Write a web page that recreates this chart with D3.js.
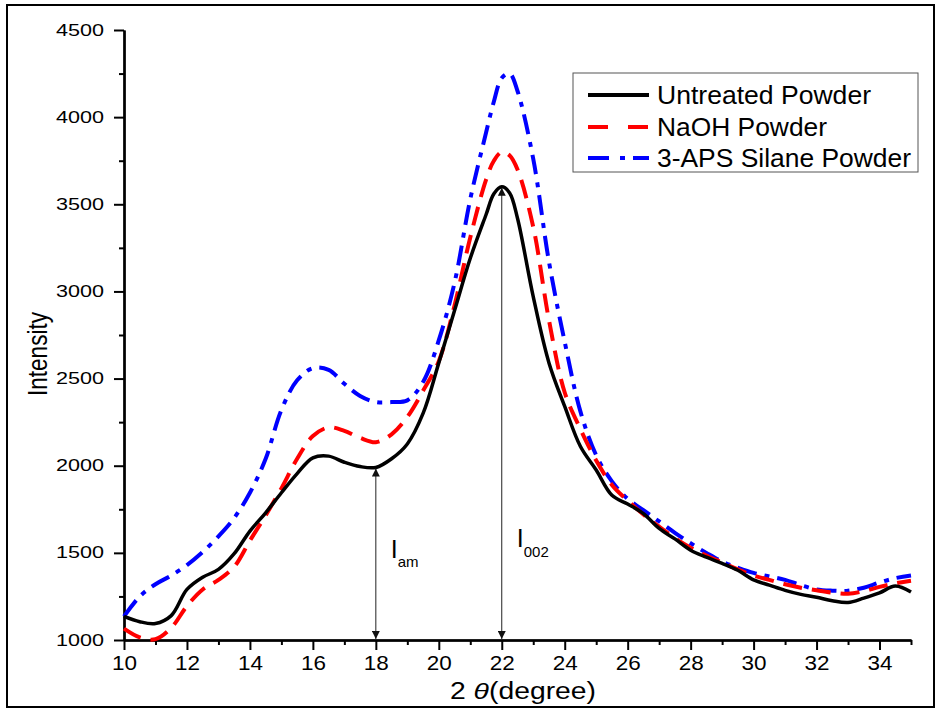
<!DOCTYPE html>
<html>
<head>
<meta charset="utf-8">
<script src="https://cdn.jsdelivr.net/npm/d3@7"></script>
<style>
    html, body { margin: 0; padding: 0; background: #fff; }
    svg { display: block; font-family: "Liberation Sans", Arial, sans-serif; }
</style>
</head>
<body>
<svg id="xrd-svg" width="940" height="711"></svg>
<script>
// --- DATA ---
const twoTheta = [10, 10.5, 11, 11.5, 12, 12.5, 13, 13.5, 14, 14.5, 15, 15.5, 16, 16.5, 17, 17.5,
    18, 18.5, 19, 19.5, 20, 20.5, 21, 21.5, 21.75, 22, 22.25, 22.5, 23, 23.5, 24, 24.5, 25, 25.5,
    26, 26.5, 27, 27.5, 28, 28.5, 29, 29.5, 30, 30.5, 31, 31.5, 32, 32.5, 33, 33.5, 34, 34.5, 35];

const untreated = [1135, 1105, 1095, 1140, 1290, 1360, 1405, 1495, 1625, 1730, 1845, 1955, 2045, 2055, 2020, 1995,
    1990, 2040, 2125, 2300, 2590, 2890, 3190, 3440, 3560, 3600, 3565, 3420, 2970, 2590, 2340, 2110, 1975, 1830,
    1780, 1725, 1640, 1580, 1515, 1475, 1440, 1400, 1345, 1315, 1285, 1262, 1245, 1225, 1215, 1240, 1270, 1310, 1275];

const naoh = [1065, 1015, 1005, 1070, 1195, 1290, 1345, 1420, 1570, 1715, 1870, 2040, 2170, 2220, 2200, 2160,
    2135, 2180, 2280, 2430, 2600, 2920, 3310, 3640, 3750, 3800, 3780, 3700, 3370, 2835, 2420, 2210, 2030, 1890,
    1800, 1720, 1650, 1585, 1530, 1485, 1445, 1405, 1370, 1345, 1320, 1300, 1285, 1272, 1265, 1280, 1305, 1325, 1340];

const silane = [1135, 1250, 1320, 1370, 1430, 1505, 1595, 1700, 1845, 2040, 2320, 2490, 2560, 2550, 2470, 2400,
    2365, 2365, 2375, 2480, 2720, 3050, 3530, 3910, 4090, 4225, 4250, 4150, 3760, 3170, 2710, 2310, 2060, 1910,
    1810, 1745, 1680, 1615, 1555, 1500, 1450, 1415, 1385, 1365, 1345, 1315, 1290, 1283, 1283, 1300, 1330, 1355, 1370];

const seriesNames = ["Untreated Powder", "NaOH Powder", "3-APS Silane Powder"];
const seriesColors = ["#000000", "#ff0000", "#0000ff"];
const seriesDash = [null, "19,10", "20,8,5,8"];

const xMajorTicks = [10, 12, 14, 16, 18, 20, 22, 24, 26, 28, 30, 32, 34];
const yMajorTicks = [1000, 1500, 2000, 2500, 3000, 3500, 4000, 4500];

// intensity markers: I_am at 18 deg, I_002 at 22 deg
const markerAngles = [18, 22];
const markerTops = [1990, 3600];
const markerSubs = ["am", "002"];

document.addEventListener("DOMContentLoaded", () => {
    drawChart();
});

function drawChart() {
    const svg = d3.select("#xrd-svg");

    // picture frame
    svg.append("rect")
        .attr("x", 7).attr("y", 5)
        .attr("width", 927).attr("height", 702)
        .attr("fill", "#fff")
        .attr("stroke", "#000")
        .attr("stroke-width", 2);

    const x = d3.scaleLinear().domain([10, 35]).range([124, 911]);
    const y = d3.scaleLinear().domain([1000, 4500]).range([640, 30]);

    // --- Axes ---
    const xMinor = d3.axisBottom(x).tickValues(d3.range(11, 36, 2)).tickSize(5).tickSizeOuter(0).tickFormat("");
    const yMinor = d3.axisLeft(y).tickValues(d3.range(1250, 4500, 500)).tickSize(5).tickSizeOuter(0).tickFormat("");

    svg.append("g").attr("transform", "translate(0,640)").call(xMinor)
        .call(g => g.selectAll("line,path").attr("stroke", "#000").attr("stroke-width", 2));
    svg.append("g").attr("transform", "translate(124,0)").call(yMinor)
        .call(g => g.selectAll("line,path").attr("stroke", "#000").attr("stroke-width", 2));

    const gx = svg.append("g").attr("transform", "translate(0,640)")
        .call(d3.axisBottom(x).tickValues(xMajorTicks).tickSize(10).tickSizeOuter(0).tickPadding(5).tickFormat(d3.format("d")));
    gx.select(".domain").attr("stroke", "#000").attr("stroke-width", 2.5);
    gx.selectAll("line").attr("stroke", "#000").attr("stroke-width", 2);
    gx.selectAll("text").attr("fill", "#000").style("font-size", "21px")
        .attr("textLength", 25).attr("lengthAdjust", "spacingAndGlyphs");

    const gy = svg.append("g").attr("transform", "translate(124,0)")
        .call(d3.axisLeft(y).tickValues(yMajorTicks).tickSize(10).tickSizeOuter(0).tickPadding(10).tickFormat(d3.format("d")));
    gy.select(".domain").attr("stroke", "#000").attr("stroke-width", 2.5);
    gy.selectAll("line").attr("stroke", "#000").attr("stroke-width", 2);
    gy.selectAll("text").attr("fill", "#000").style("font-size", "16px")
        .attr("textLength", 48).attr("lengthAdjust", "spacingAndGlyphs");
    // clear the font attrs d3 puts on the axis group
    svg.selectAll("g").attr("font-family", null).attr("font-size", null);

    // axis titles
    svg.append("text")
        .attr("transform", "translate(47,354) rotate(-90)")
        .attr("text-anchor", "middle")
        .attr("textLength", 84).attr("lengthAdjust", "spacingAndGlyphs")
        .style("font-size", "27px")
        .text("Intensity");

    const xt = svg.append("text")
        .attr("x", 523).attr("y", 699)
        .attr("text-anchor", "middle")
        .attr("textLength", 146).attr("lengthAdjust", "spacingAndGlyphs")
        .style("font-size", "23px");
    xt.append("tspan").text("2 ");
    xt.append("tspan").style("font-style", "italic").text("θ");
    xt.append("tspan").text("(degree)");

    // --- Curves ---
    const allSeries = [untreated, naoh, silane];
    const line = d3.line()
        .x((d, i) => x(twoTheta[i]))
        .y(d => y(d))
        .curve(d3.curveCatmullRom.alpha(0.5));

    // draw blue and red under black
    [2, 1, 0].forEach(k => {
        svg.append("path")
            .datum(allSeries[k])
            .attr("fill", "none")
            .attr("stroke", seriesColors[k])
            .attr("stroke-width", k === 0 ? 3.5 : 4)
            .attr("stroke-dasharray", seriesDash[k])
            .attr("stroke-linejoin", "round")
            .attr("d", line);
    });

    // --- Intensity markers (double arrows) ---
    const defs = svg.append("defs");
    defs.append("marker")
        .attr("id", "arr")
        .attr("viewBox", "0 0 10 10")
        .attr("refX", 10).attr("refY", 5)
        .attr("markerWidth", 13).attr("markerHeight", 8)
        .attr("markerUnits", "userSpaceOnUse")
        .attr("orient", "auto-start-reverse")
        .append("path")
        .attr("d", "M0,0 L10,5 L0,10 Z")
        .attr("fill", "#111");

    markerAngles.forEach((a, i) => {
        svg.append("line")
            .attr("x1", x(a)).attr("x2", x(a))
            .attr("y1", y(markerTops[i]) + 1).attr("y2", y(1000) - 1)
            .attr("stroke", "#222")
            .attr("stroke-width", 1)
            .attr("marker-start", "url(#arr)")
            .attr("marker-end", "url(#arr)");
    });

    // labels I_am and I_002
    const lab1 = svg.append("text").attr("x", x(18) + 15).attr("y", 558).style("font-size", "25px");
    lab1.append("tspan").text("I");
    lab1.append("tspan").attr("dy", 9).style("font-size", "15px").text(markerSubs[0]);

    const lab2 = svg.append("text").attr("x", x(22) + 15).attr("y", 547).style("font-size", "25px");
    lab2.append("tspan").text("I");
    lab2.append("tspan").attr("dy", 10).style("font-size", "15px").text(markerSubs[1]);

    // --- Legend ---
    const lg = svg.append("g");
    lg.append("rect")
        .attr("x", 573).attr("y", 73)
        .attr("width", 345).attr("height", 99)
        .attr("fill", "#fff")
        .attr("stroke", "#555")
        .attr("stroke-width", 1);

    const rowY = [95, 127, 158];
    const nameWidths = [214, 170, 254];
    seriesNames.forEach((name, k) => {
        lg.append("line")
            .attr("x1", 588).attr("x2", 649)
            .attr("y1", rowY[k]).attr("y2", rowY[k])
            .attr("stroke", seriesColors[k])
            .attr("stroke-width", 4)
            .attr("stroke-dasharray", k === 1 ? "20,20" : (k === 2 ? "21,11,5,8" : null));
        lg.append("text")
            .attr("x", 657).attr("y", rowY[k])
            .attr("dy", "0.36em")
            .attr("textLength", nameWidths[k]).attr("lengthAdjust", "spacingAndGlyphs")
            .style("font-size", "25px")
            .text(name);
    });
}
</script>
</body>
</html>
